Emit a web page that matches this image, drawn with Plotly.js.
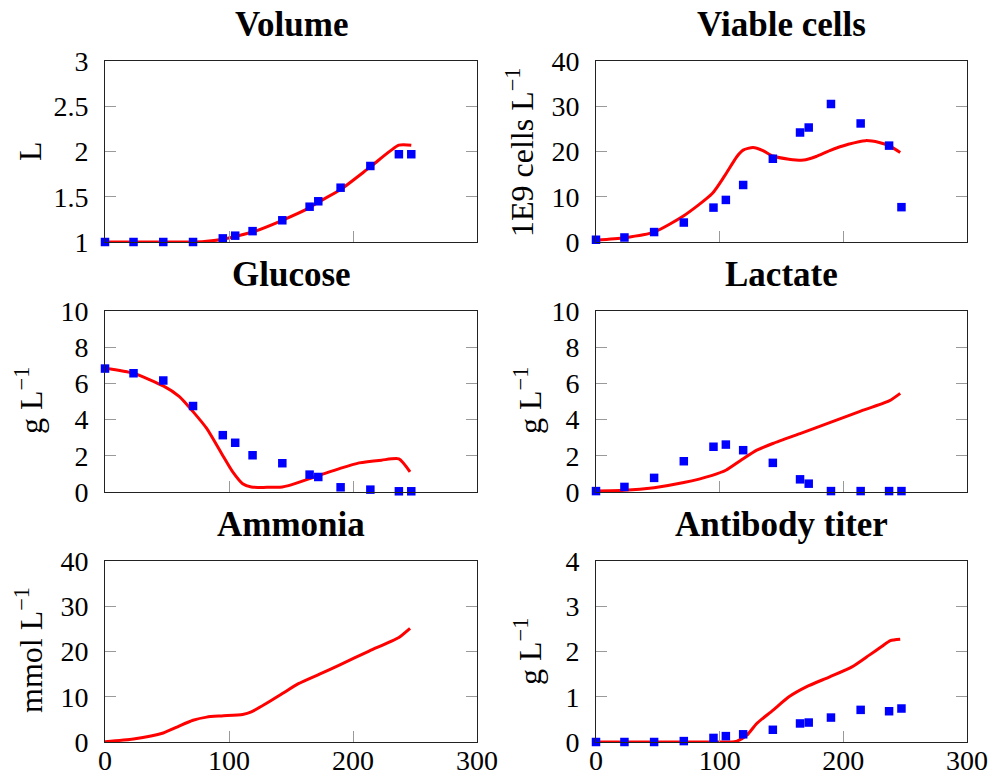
<!DOCTYPE html>
<html>
<head>
<meta charset="utf-8">
<script src="https://cdn.plot.ly/plotly-3.0.1.min.js"></script>
<style>html,body{margin:0;padding:0;background:#fff;}#chart{width:995px;height:780px;}</style>
</head>
<body>
<div id="chart"></div>
<script>
// ---- measured data (time in h) ----
const tData = [0, 23, 47, 71, 95, 105, 119, 143, 165, 172, 190, 214, 237, 247];
const volumeData = [1, 1, 1, 1, 1.04, 1.07, 1.12, 1.24, 1.39, 1.45, 1.6, 1.84, 1.97, 1.97];
const cellsData = [0.5, 1.0, 2.2, 4.3, 7.6, 9.3, 12.6, 18.4, 24.2, 25.3, 30.5, 26.2, 21.3, 7.7];
const glucoseData = [6.82, 6.56, 6.16, 4.75, 3.14, 2.72, 2.03, 1.59, 0.96, 0.83, 0.26, 0.13, 0.04, 0.04];
const lactateData = [0.05, 0.28, 0.78, 1.7, 2.5, 2.62, 2.31, 1.61, 0.7, 0.46, 0.05, 0.05, 0.05, 0.05];
const antibodyData = [0, 0, 0, 0.02, 0.09, 0.13, 0.17, 0.27, 0.41, 0.43, 0.54, 0.71, 0.68, 0.74];

// ---- model curves ----
const tVolumeModel = [0, 23, 47, 71, 80, 95, 105, 119, 143, 165, 172, 190, 214, 237, 247];
const volumeModel = [1, 1, 1, 1, 1.005, 1.03, 1.06, 1.11, 1.24, 1.38, 1.44, 1.58, 1.83, 2.07, 2.07];
const tCellsModel = [0, 23, 47, 71, 94, 104, 114, 119, 127, 135, 143, 156, 168, 178, 189, 204, 218, 229, 237, 246];
const cellsModel = [0.4, 0.96, 2.2, 5.8, 10.7, 14.6, 18.9, 20.3, 20.9, 20.2, 19.0, 18.3, 18.1, 18.9, 20.2, 21.6, 22.4, 22.0, 21.3, 19.8];
const tGlucoseModel = [0, 23, 47, 60, 71, 82, 94, 103, 111, 118, 143, 148, 165, 189, 205, 223, 237, 246];
const glucoseModel = [6.84, 6.56, 5.86, 5.27, 4.44, 3.51, 2.13, 1.11, 0.46, 0.28, 0.28, 0.35, 0.74, 1.29, 1.61, 1.76, 1.83, 1.11];
const tLactateModel = [0, 23, 47, 71, 94, 105, 118, 130, 143, 165, 189, 213, 237, 246];
const lactateModel = [0.05, 0.09, 0.24, 0.52, 0.92, 1.2, 1.79, 2.31, 2.68, 3.23, 3.83, 4.44, 5.03, 5.45];
const tAmmoniaModel = [0, 23, 47, 58, 71, 82, 94, 111, 118, 130, 143, 156, 173, 189, 213, 237, 246];
const ammoniaModel = [0.07, 0.67, 2.0, 3.3, 4.8, 5.5, 5.77, 6.1, 6.65, 8.5, 10.7, 12.9, 15.0, 17.0, 20.1, 23.1, 25.1];
const tAntibodyModel = [0, 23, 47, 71, 95, 108, 114, 122, 130, 143, 156, 170, 189, 207, 221, 231, 238, 246];
const antibodyModel = [0, 0, 0, 0, 0, 0, 0.02, 0.15, 0.41, 0.70, 1.0, 1.22, 1.44, 1.66, 1.92, 2.11, 2.24, 2.27];

// ---- labels / ticks ----
const panelTitles = ["Volume", "Viable cells", "Glucose", "Lactate", "Ammonia", "Antibody titer"];
const yTitles = ["L", "1E9 cells L<sup>−1</sup>", "g L<sup>−1</sup>", "g L<sup>−1</sup>", "mmol L<sup>−1</sup>", "g L<sup>−1</sup>"];
const xTicks = [0, 100, 200, 300];
const yTicksVolume = [1, 1.5, 2, 2.5, 3];
const yTickTextVolume = ["1", "1.5", "2", "2.5", "3"];
const yTicks40 = [0, 10, 20, 30, 40];
const yTicks10 = [0, 2, 4, 6, 8, 10];
const yTicks4 = [0, 1, 2, 3, 4];

const FONT = "'Liberation Serif', 'DejaVu Serif', 'Times New Roman', serif";
const W = 995, H = 780;
const colX = [[105, 477], [596, 967]];
const rowY = [[61, 242], [311, 492], [561, 742]];

const panels = [
  {tm: tVolumeModel, ym: volumeModel, yd: volumeData, range: [1, 3], ticks: yTicksVolume, text: yTickTextVolume},
  {tm: tCellsModel, ym: cellsModel, yd: cellsData, range: [0, 40], ticks: yTicks40},
  {tm: tGlucoseModel, ym: glucoseModel, yd: glucoseData, range: [0, 10], ticks: yTicks10},
  {tm: tLactateModel, ym: lactateModel, yd: lactateData, range: [0, 10], ticks: yTicks10},
  {tm: tAmmoniaModel, ym: ammoniaModel, yd: null, range: [0, 40], ticks: yTicks40},
  {tm: tAntibodyModel, ym: antibodyModel, yd: antibodyData, range: [0, 4], ticks: yTicks4}
];
const yTitleX = [30, 520, 29, 528, 29, 528];
const yTitleY = [151, 152, 401, 401, 650, 652];

const traces = [];
const layout = {
  width: W, height: H,
  margin: {l: 0, r: 0, t: 0, b: 0},
  paper_bgcolor: "#fff", plot_bgcolor: "#fff",
  showlegend: false,
  font: {family: FONT, size: 28, color: "#000"},
  annotations: []
};

panels.forEach((p, i) => {
  const r = Math.floor(i / 2), c = i % 2;
  const n = i + 1;
  const xa = "x" + (n === 1 ? "" : n), ya = "y" + (n === 1 ? "" : n);
  traces.push({
    x: p.tm, y: p.ym, xaxis: xa, yaxis: ya, type: "scatter", mode: "lines",
    line: {color: "#ff0000", width: 3, shape: "spline", smoothing: 0.6},
    cliponaxis: false, hoverinfo: "skip"
  });
  if (p.yd) {
    traces.push({
      x: tData, y: p.yd, xaxis: xa, yaxis: ya, type: "scatter", mode: "markers",
      marker: {symbol: "square", size: 8.5, color: "#0000ff", line: {width: 0}},
      cliponaxis: false, hoverinfo: "skip"
    });
  }
  const xk = "xaxis" + (n === 1 ? "" : n), yk = "yaxis" + (n === 1 ? "" : n);
  layout[xk] = {
    domain: [colX[c][0] / W, colX[c][1] / W],
    anchor: ya, range: [0, 300], tickvals: xTicks,
    showticklabels: r === 2,
    ticks: "inside", ticklen: 11, tickcolor: "#9a9a9a", tickwidth: 1,
    showline: true, linecolor: "#222", linewidth: 1, mirror: true,
    showgrid: false, zeroline: false,
    tickfont: {family: FONT, size: 28, color: "#000"},
    ticklabelstandoff: -7
  };
  layout[yk] = {
    domain: [1 - rowY[r][1] / H, 1 - rowY[r][0] / H],
    anchor: xa, range: p.range, tickvals: p.ticks,
    ticktext: p.text ? p.text : p.ticks.map(String),
    ticks: "inside", ticklen: 11, tickcolor: "#9a9a9a", tickwidth: 1,
    showline: true, linecolor: "#222", linewidth: 1, mirror: "ticks",
    showgrid: false, zeroline: false,
    tickfont: {family: FONT, size: 28, color: "#000"},
    ticklabelstandoff: 10
  };
  layout.annotations.push({
    text: panelTitles[i], xref: "paper", yref: "paper",
    x: (colX[c][0] + colX[c][1]) / 2 / W, y: 1 - (rowY[r][0] - 37) / H,
    xanchor: "center", yanchor: "middle", showarrow: false,
    font: {family: FONT, size: 35, color: "#000", weight: "bold"}
  });
  layout.annotations.push({
    text: yTitles[i], xref: "paper", yref: "paper",
    x: yTitleX[i] / W, y: 1 - yTitleY[i] / H,
    xanchor: "center", yanchor: "middle", showarrow: false, textangle: -90,
    font: {family: FONT, size: 32, color: "#000"}
  });
});

Plotly.newPlot("chart", traces, layout, {staticPlot: true, displayModeBar: false});
</script>
</body>
</html>
